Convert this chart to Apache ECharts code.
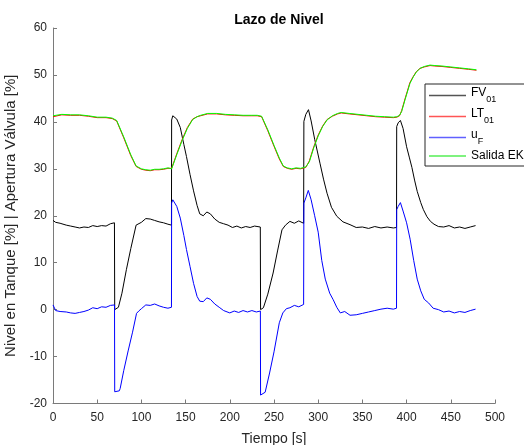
<!DOCTYPE html>
<html>
<head>
<meta charset="utf-8">
<script src="https://cdn.jsdelivr.net/npm/echarts@6/dist/echarts.min.js"></script>
<style>
html,body{margin:0;padding:0;background:#fff;}
#c{width:524px;height:445px;}
</style>
</head>
<body>
<div id="c"></div>
<script>
// ---- data (time in s, value in %) ----
var tFV = [0,3,8,15,20,25,30,35,40,45,50,55,60,65,69.5,69.8,72,74,78,83,88,94,100,105,110,115,120,125,130,134,134.2,135.5,137,140,144,148,151,155,159,163,166,170,174,178,183,188,193,198,203,208,213,218,223,228,234.5,234.8,238,243,249,254,259,263,268,273,278,283.5,283.8,286,289,292,296,302,306,310,315,321,328,336,343,350,357,364,371,378,385,388.6,388.8,390.5,393,396,400,403,406,409,412,416,419,423,427,431,436,442,448,454,460,466,472,478];
var yFV = [19.0,18.6,18.4,18.0,17.8,17.6,17.4,17.6,17.5,17.9,17.7,17.9,17.8,18.3,18.5,0.0,0.1,0.5,3.5,8.5,13.0,18.0,18.6,19.4,19.3,19.0,18.7,18.5,18.2,18.0,40.4,41.3,41.7,40.6,38.8,35.2,32.6,28.8,25.3,22.2,20.4,20.0,20.8,20.4,19.3,18.6,18.3,18.0,17.5,17.8,17.4,17.7,17.5,17.8,17.6,0.0,0.4,3.3,7.8,12.5,17.0,18.0,18.8,18.4,18.9,18.4,40.1,41.6,42.6,40.2,36.3,31.2,27.8,24.8,21.8,19.9,18.7,18.1,17.5,17.6,17.3,17.7,17.4,17.6,17.4,17.5,39.0,39.8,40.3,38.6,34.7,32.5,30.3,27.6,25.2,22.8,21.3,19.8,18.8,18.2,17.7,17.6,17.9,17.4,17.6,17.3,17.6,17.9];

var tUF = [0,3,8,15,20,25,30,35,40,45,50,55,60,65,69.6,69.8,72,75,76,80,85,90,94.5,97,100,105,110,115,120,125,130,134,134.2,135.5,137,140,144,148,151,155,159,163,166,170,174,178,183,188,193,200,205,210,215,220,225,230,234.6,234.8,237,240,245,250,256,260,264,268,273,278,283.5,283.8,286,288.8,292,296,300,304,308,313,317,321,325,330,336,343,350,357,364,371,378,385,388.6,388.8,390.5,393,396,400,404,408,412,416,420,425,430,436,442,448,454,460,466,472,478];
var yUF = [1.0,-0.2,-0.4,-0.5,-0.7,-0.8,-0.6,-0.4,-0.1,0.4,0.2,0.6,0.5,0.9,1.0,-17.5,-17.6,-17.3,-16.8,-13.0,-8.8,-4.8,-0.8,-0.3,0.2,1.0,0.9,1.2,0.8,0.5,0.3,0.5,22.7,23.4,23.3,22.0,19.5,15.8,12.8,9.2,5.6,2.8,1.8,1.7,2.5,2.2,1.2,0.5,-0.2,-0.7,-0.3,-0.6,-0.2,-0.5,-0.2,-0.5,-0.3,-18.2,-18.3,-17.6,-13.5,-9.0,-2.8,-0.7,0.2,0.4,0.9,0.6,1.1,22.7,23.8,25.4,23.4,20.0,16.5,10.5,6.5,3.5,2.1,0.5,-0.7,-0.4,-1.2,-1.1,-0.8,-0.5,-0.2,0.1,0.3,0.1,0.3,21.3,22.0,22.8,21.0,18.5,15.0,10.5,6.5,4.0,2.2,1.4,0.3,0.0,-0.5,-0.3,-0.7,-0.4,-0.6,-0.2,0.1];

var tEKF = [0,10,20,30,40,50,60,67,72,80,88,94,100,105,110,115,120,125,130,134.2,140,146,152,158,163,167,175,185,195,205,215,225,231,236,243,250,256,260.5,265,270,275,280,286,290,295,300,305,310,316,322,326,335,345,355,365,375,385,389,392,394.4,398.2,403.8,407.6,411,415.2,420,426.5,432,440,450,460,470,479];
var yEKF = [41.3,41.6,41.5,41.5,41.3,41.0,41.0,40.8,40.3,36.8,33.0,30.6,30.0,29.8,29.7,29.9,29.9,30.0,30.2,30.0,33.0,36.0,38.6,40.5,41.1,41.4,41.8,41.8,41.6,41.5,41.4,41.4,41.4,41.2,38.3,35.0,32.3,30.6,30.2,30.0,30.2,30.1,30.4,31.5,34.5,37.0,39.0,40.4,41.3,41.8,42.0,41.8,41.6,41.4,41.2,41.1,41.0,41.1,41.4,42.2,44.7,48.2,49.6,50.6,51.4,51.8,52.1,52.0,51.9,51.7,51.5,51.3,51.1];

var tLT = [0,10,20,30,40,50,60,67,72,80,88,94,100,105,110,115,120,125,130,134.2,140,146,152,158,163,167,175,185,195,205,215,225,231,236,243,250,256,260.5,265,270,275,280,286,290,295,300,305,310,316,322,326,335,345,355,365,375,385,389,392,394.4,398.2,403.8,407.6,411,415.2,420,426.5,432,440,450,460,470,479];
var yLT = [41.1,41.5,41.4,41.4,41.2,40.9,40.9,40.7,40.2,36.6,32.8,30.5,29.9,29.7,29.6,29.8,29.8,29.9,30.1,30.1,33.2,36.2,38.8,40.6,41.1,41.3,41.7,41.7,41.5,41.4,41.3,41.3,41.3,41.1,38.1,34.8,32.1,30.5,30.1,29.9,30.1,30.0,30.3,31.7,34.7,37.2,39.1,40.5,41.2,41.7,41.9,41.7,41.5,41.3,41.1,41.0,40.9,41.0,41.3,42.4,44.9,48.4,49.7,50.7,51.4,51.7,52.0,51.9,51.8,51.6,51.4,51.2,51.0];

var xTicks = {min:0, max:500, interval:50};
var yTicks = {min:-20, max:60, interval:10};
var names = ['FV01','LT01','uF','Salida EKF'];
var colors = ['#000000','#ff0000','#0000ff','#00ff00'];
var legendColors = ['#555555','#ff5555','#6060ff','#55ee55'];

function pairs(t, y){ var out=[]; for(var i=0;i<t.length;i++) out.push([t[i],y[i]]); return out; }

var FONT = '"Liberation Sans", Arial, Helvetica, sans-serif';
var chart = echarts.init(document.getElementById('c'), null, {renderer:'canvas'});
var axisColor = '#7a7a7a';
var labelColor = '#262626';

var legendData = names.map(function(n, i){
  return {name:n, icon:'rect', itemStyle:{color:legendColors[i], borderWidth:0, opacity:1}};
});

var option = {
  animation:false,
  backgroundColor:'#ffffff',
  title:{
    text:'Lazo de Nivel', left:274, top:8, textAlign:'center',
    textStyle:{fontFamily:FONT, fontSize:14, fontWeight:'bold', color:'#000'}
  },
  grid:{left:53, right:29, top:28, bottom:41.5, containLabel:false, outerBoundsMode:'none'},
  legend:{
    data:legendData, orient:'vertical', left:425, top:84, z:20,
    padding:[3,8,4,4], itemGap:4, itemWidth:37, itemHeight:1.5,
    backgroundColor:'#ffffff', borderColor:'#262626', borderWidth:1, borderRadius:0,
    textStyle:{fontFamily:FONT, fontSize:12, color:'#000',
      rich:{
        m:{fontFamily:FONT, fontSize:12, color:'#000', padding:[0,0,5,0], verticalAlign:'bottom'},
        p:{fontFamily:FONT, fontSize:12, color:'#000', verticalAlign:'bottom'},
        s:{fontFamily:FONT, fontSize:9, color:'#000', verticalAlign:'bottom'}
      }
    },
    formatter:function(n){
      if(n==='FV01') return '{m|FV}{s|01}';
      if(n==='LT01') return '{m|LT}{s|01}';
      if(n==='uF') return '{m|u}{s|F}';
      return '{p|'+n+'}';
    }
  },
  xAxis:{
    type:'value', min:xTicks.min, max:xTicks.max, interval:xTicks.interval,
    name:'Tiempo [s]', nameLocation:'middle', nameGap:29,
    nameTextStyle:{fontFamily:FONT, fontSize:14, color:labelColor},
    axisLine:{show:true, onZero:false, lineStyle:{color:axisColor, width:1}},
    axisTick:{show:true, inside:true, length:4, lineStyle:{color:axisColor}},
    axisLabel:{fontFamily:FONT, fontSize:12, color:labelColor, margin:8},
    splitLine:{show:false}
  },
  yAxis:{
    type:'value', min:yTicks.min, max:yTicks.max, interval:yTicks.interval,
    name:'Nivel en Tanque [%] | Apertura Válvula [%]', nameLocation:'middle', nameGap:31,
    nameTextStyle:{fontFamily:FONT, fontSize:15, color:labelColor},
    axisLine:{show:true, onZero:false, lineStyle:{color:axisColor, width:1}},
    axisTick:{show:true, inside:true, length:4, lineStyle:{color:axisColor}},
    axisLabel:{fontFamily:FONT, fontSize:12, color:labelColor, margin:6},
    splitLine:{show:false}
  },
  series:[
    {name:names[0], type:'line', data:pairs(tFV,yFV), showSymbol:false, symbol:'none', color:colors[0], lineStyle:{width:1, color:colors[0]}},
    {name:names[1], type:'line', data:pairs(tLT,yLT), showSymbol:false, symbol:'none', color:colors[1], lineStyle:{width:1, color:colors[1]}},
    {name:names[2], type:'line', data:pairs(tUF,yUF), showSymbol:false, symbol:'none', color:colors[2], lineStyle:{width:1, color:colors[2]}},
    {name:names[3], type:'line', data:pairs(tEKF,yEKF), showSymbol:false, symbol:'none', color:colors[3], lineStyle:{width:1, color:colors[3]}}
  ]
};
chart.setOption(option);
</script>
</body>
</html>
